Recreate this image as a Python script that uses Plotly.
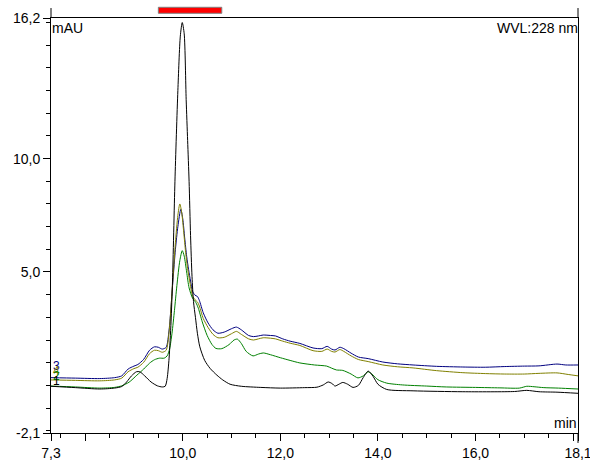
import plotly.graph_objects as go

# Retention time (min) and absorbance (mAU) for the four overlaid runs
t_black = [7.3, 7.8, 8.3, 8.6, 8.75, 8.85, 8.95, 9.05, 9.12, 9.22, 9.35, 9.48, 9.58, 9.64,
           9.68, 9.72, 9.76, 9.79, 9.84, 9.9, 9.95, 9.99, 10.03, 10.07, 10.10, 10.13, 10.16,
           10.19, 10.22, 10.26, 10.3, 10.35, 10.45, 10.56, 10.7, 10.82, 10.97, 11.2, 11.6,
           12.0, 12.5, 12.75, 12.88, 12.98, 13.06, 13.12, 13.2, 13.28, 13.38, 13.49, 13.6,
           13.7, 13.8, 13.9, 14.0, 14.18, 14.72, 15.74, 16.8, 17.05, 17.3, 17.67, 18.1]
v_black = [-0.04, -0.1, -0.16, -0.12, -0.05, 0.15, 0.42, 0.6, 0.6, 0.42, 0.15, -0.02, -0.07, -0.04,
           0.3, 1.2, 2.8, 4.6, 9.0, 13.0, 15.4, 16.0, 15.5, 12.6, 10.8, 9.0, 6.6,
           4.8, 3.7, 3.0, 2.3, 1.7, 1.1, 0.75, 0.45, 0.24, 0.05, -0.04, -0.09,
           -0.12, -0.1, -0.08, 0.02, 0.15, 0.08, -0.03, 0.05, 0.13, 0.05, -0.09, 0.0,
           0.35, 0.63, 0.4, 0.05, -0.18, -0.24, -0.28, -0.27, -0.22, -0.28, -0.3, -0.35]

t_green = [7.3, 7.8, 8.3, 8.6, 8.75, 8.9, 9.06, 9.2, 9.32, 9.42, 9.52, 9.62, 9.68, 9.73, 9.78,
           9.83, 9.88, 9.94, 9.99, 10.03, 10.08, 10.13, 10.2, 10.27, 10.32, 10.4, 10.5, 10.6,
           10.68, 10.8, 10.95, 11.05, 11.12, 11.2, 11.3, 11.44, 11.55, 11.65, 11.8, 12.0,
           12.2, 12.4, 12.7, 12.95, 13.05, 13.15, 13.28, 13.45, 13.59, 13.7, 13.8, 13.9,
           14.0, 14.18, 14.5, 15.0, 15.4, 16.0, 16.5, 16.9, 17.05, 17.2, 17.4, 17.7, 18.1]
v_green = [-0.03, -0.07, -0.12, -0.09, -0.02, 0.14, 0.45, 0.72, 0.98, 1.13, 1.2, 1.2, 1.3, 1.6, 2.3,
           3.3, 4.4, 5.5, 5.94, 5.7, 5.0, 4.3, 3.85, 3.65, 3.4, 2.8, 2.2, 1.8,
           1.63, 1.62, 1.8, 2.0, 2.04, 1.85, 1.5, 1.3, 1.38, 1.43, 1.35, 1.22,
           1.1, 0.99, 0.9, 0.85, 0.76, 0.68, 0.66, 0.5, 0.33, 0.42, 0.6, 0.45,
           0.25, 0.1, 0.02, -0.03, -0.07, -0.09, -0.11, -0.12, -0.04, -0.06, -0.1, -0.12, -0.16]

t_blue = [7.3, 7.8, 8.3, 8.6, 8.75, 8.88, 9.0, 9.08, 9.2, 9.32, 9.42, 9.5, 9.58, 9.66, 9.72,
          9.76, 9.8, 9.85, 9.9, 9.96, 10.0, 10.04, 10.08, 10.12, 10.16, 10.2, 10.25, 10.3,
          10.34, 10.42, 10.52, 10.62, 10.72, 10.85, 11.0, 11.1, 11.2, 11.35, 11.45, 11.55,
          11.65, 11.8, 11.9, 12.05, 12.2, 12.4, 12.67, 12.85, 12.96, 13.05, 13.12, 13.22,
          13.3, 13.45, 13.6, 13.8, 14.1, 14.4, 14.72, 15.2, 15.74, 16.2, 16.6, 17.0, 17.3,
          17.67, 17.85, 18.1]
v_blue = [0.34, 0.32, 0.3, 0.34, 0.42, 0.72, 0.85, 0.92, 1.15, 1.55, 1.7, 1.68, 1.6, 1.68, 2.44,
          3.47, 4.65, 6.0, 7.0, 7.76, 7.35, 6.5, 5.7, 5.1, 4.6, 4.15, 3.98, 3.92,
          3.75, 3.2, 2.75, 2.45, 2.3, 2.35, 2.5, 2.57, 2.45, 2.2, 2.15, 2.18,
          2.22, 2.2, 2.18, 2.05, 1.95, 1.85, 1.65, 1.62, 1.72, 1.6, 1.56, 1.68,
          1.62, 1.42, 1.25, 1.18, 1.03, 0.95, 0.9, 0.84, 0.81, 0.8, 0.83, 0.85, 0.86,
          0.94, 0.9, 0.9]

t_olive = [7.3, 7.8, 8.3, 8.6, 8.75, 8.88, 9.0, 9.08, 9.2, 9.32, 9.42, 9.5, 9.58, 9.66, 9.72,
           9.76, 9.8, 9.85, 9.9, 9.94, 9.98, 10.02, 10.06, 10.1, 10.15, 10.2, 10.25, 10.3,
           10.34, 10.42, 10.52, 10.62, 10.72, 10.85, 11.0, 11.1, 11.2, 11.35, 11.45, 11.55,
           11.65, 11.8, 11.9, 12.05, 12.2, 12.4, 12.67, 12.85, 12.96, 13.05, 13.12, 13.22,
           13.3, 13.45, 13.6, 13.8, 14.1, 14.4, 14.72, 15.2, 15.74, 16.2, 16.6, 17.0, 17.3,
           17.67, 17.9, 18.1]
v_olive = [0.24, 0.22, 0.2, 0.24, 0.32, 0.6, 0.74, 0.8, 1.02, 1.4, 1.55, 1.53, 1.46, 1.55, 2.35,
           3.45, 4.75, 6.3, 7.5, 8.0, 7.6, 6.75, 5.85, 5.15, 4.5, 3.95, 3.78, 3.68,
           3.5, 2.95, 2.55, 2.25, 2.1, 2.12, 2.28, 2.38, 2.25, 2.05, 2.0, 2.05,
           2.1, 2.08, 2.05, 1.95, 1.86, 1.76, 1.53, 1.5, 1.6, 1.5, 1.47, 1.58,
           1.5, 1.3, 1.14, 1.05, 0.9, 0.82, 0.77, 0.65, 0.56, 0.52, 0.5, 0.5, 0.53,
           0.55, 0.48, 0.42]

# Axis ticks
x_major = [7.3, 8.0, 10.0, 12.0, 14.0, 16.0, 18.0, 18.1]
x_major_text = ["7,3", "", "10,0", "12,0", "14,0", "16,0", "", "18,1"]
x_minor = [7.5, 8.5, 9.0, 9.5, 10.5, 11.0, 11.5, 12.5, 13.0, 13.5, 14.5, 15.0, 15.5,
           16.5, 17.0, 17.5]
y_major = [-2.1, 5.0, 10.0, 16.2]
y_major_text = ["-2,1", "5,0", "10,0", "16,2"]
y_minor = [-2, -1, 0, 1, 2, 3, 4, 6, 7, 8, 9, 11, 12, 13, 14, 15, 16]

# Fraction window marker (min)
window = [9.5, 10.8]

FONT = "Liberation Sans, Arial, sans-serif"

# run number, data, colour, label height (mAU)
runs = [
    ("3", t_blue, v_blue, "#000080", 0.85),
    ("4", t_olive, v_olive, "#808000", 0.62),
    ("2", t_green, v_green, "#008000", 0.40),
    ("1", t_black, v_black, "#000000", 0.18),
]

fig = go.Figure()
for name, t, v, color, _ in runs:
    fig.add_trace(go.Scatter(
        x=t, y=v, mode="lines", name=name,
        line=dict(color=color, width=1, shape="spline", smoothing=0.7),
        hoverinfo="skip", showlegend=False,
    ))

annotations = [
    dict(text="mAU", x=0, y=1, xref="paper", yref="paper", xanchor="left", yanchor="top",
         showarrow=False, font=dict(family=FONT, size=14, color="black"), xshift=-1),
    dict(text="WVL:228 nm", x=1, y=1, xref="paper", yref="paper", xanchor="right",
         yanchor="top", showarrow=False, font=dict(family=FONT, size=14, color="black"),
         xshift=2),
    dict(text="min", x=1, y=0, xref="paper", yref="paper", xanchor="right",
         yanchor="bottom", showarrow=False, font=dict(family=FONT, size=14, color="black"),
         xshift=1),
]
for name, t, v, color, ylab in runs:
    annotations.append(dict(
        text=name, x=t[0], y=ylab, xref="x", yref="y", xanchor="left", yanchor="middle",
        showarrow=False, font=dict(family=FONT, size=12, color=color), xshift=1,
        borderpad=0))

shapes = [
    # frame line extensions above and below the plot area
    dict(type="line", xref="paper", yref="paper", x0=0, x1=0, y0=1, y1=1.024,
         line=dict(color="black", width=1)),
    dict(type="line", xref="paper", yref="paper", x0=1, x1=1, y0=1, y1=1.024,
         line=dict(color="black", width=1)),
    dict(type="line", xref="paper", yref="paper", x0=1, x1=1, y0=-0.024, y1=0,
         line=dict(color="black", width=1)),
    # fraction window bar
    dict(type="rect", xref="x", yref="paper", x0=window[0], x1=window[1],
         y0=1.0113, y1=1.0258, fillcolor="#ff0000", line=dict(color="#808080", width=1)),
]

fig.update_layout(
    width=590, height=463,
    margin=dict(l=51, r=12, t=18, b=30, autoexpand=False),
    paper_bgcolor="white", plot_bgcolor="white",
    font=dict(family=FONT, size=14, color="black"),
    annotations=annotations, shapes=shapes,
    xaxis=dict(
        range=[7.3, 18.1], showgrid=False, zeroline=False, automargin=False,
        showline=True, linecolor="black", linewidth=1, mirror=True,
        tickmode="array", tickvals=x_major, ticktext=x_major_text,
        ticks="outside", ticklen=7, tickwidth=1, tickcolor="black",
        ticklabeloverflow="allow",
        tickfont=dict(family=FONT, size=14, color="black"),
        minor=dict(tickmode="array", tickvals=x_minor, ticks="outside", ticklen=4,
                   tickwidth=1, tickcolor="black", showgrid=False),
    ),
    yaxis=dict(
        range=[-2.1, 16.2], showgrid=False, zeroline=False, automargin=False,
        showline=True, linecolor="black", linewidth=1, mirror=True,
        tickmode="array", tickvals=y_major, ticktext=y_major_text,
        ticks="outside", ticklen=7, tickwidth=1, tickcolor="black",
        ticklabeloverflow="allow",
        tickfont=dict(family=FONT, size=14, color="black"),
        minor=dict(tickmode="array", tickvals=y_minor, ticks="outside", ticklen=4,
                   tickwidth=1, tickcolor="black", showgrid=False),
    ),
)

fig.write_html("out.html")
